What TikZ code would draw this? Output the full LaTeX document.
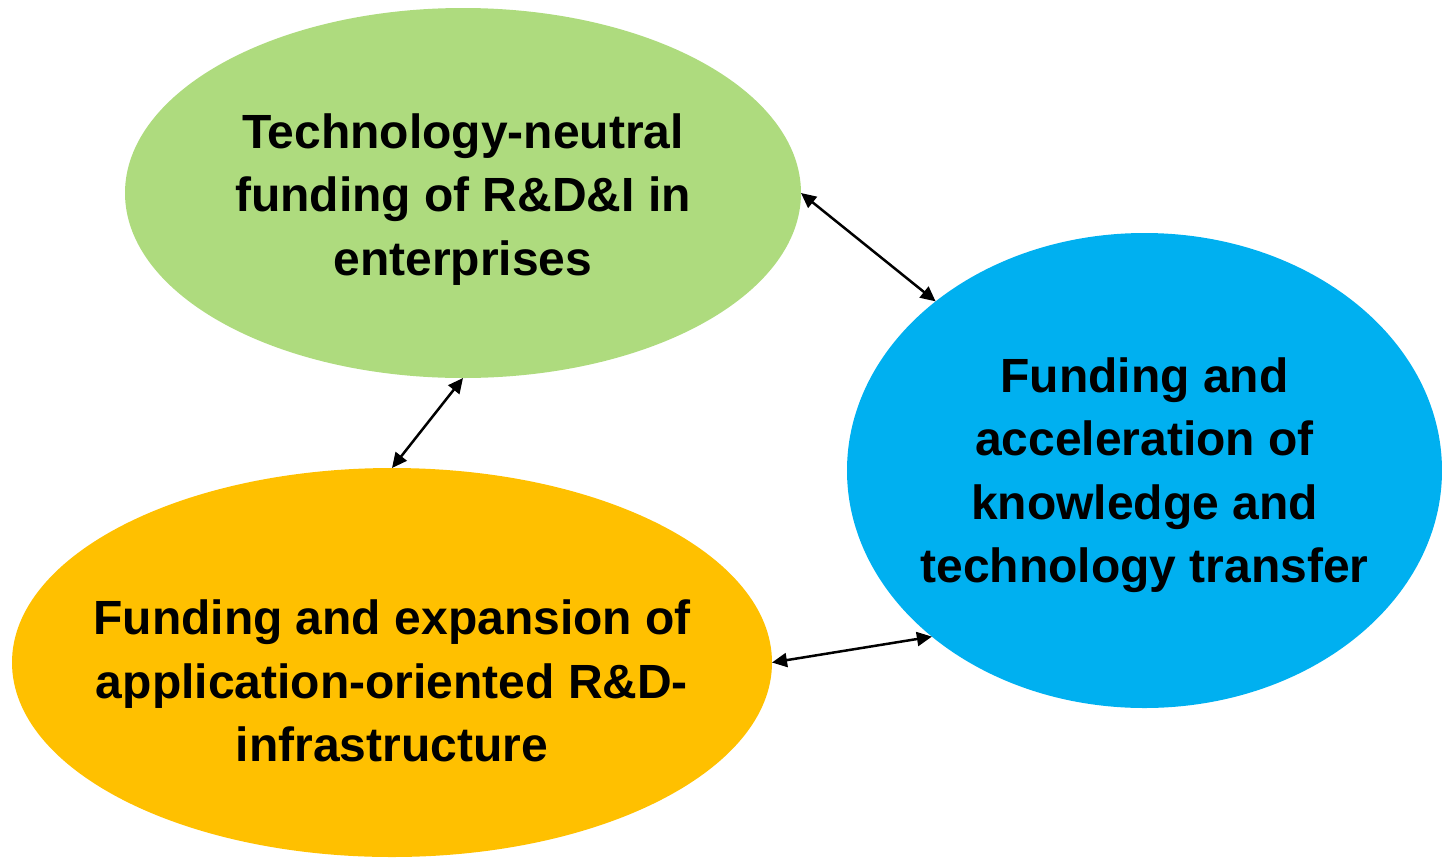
\documentclass[tikz,border=0pt]{standalone}
\usepackage{fontspec}
\setmainfont{Liberation Sans}
\usetikzlibrary{shapes.geometric,arrows.meta}
\definecolor{cgreen}{HTML}{AEDB7E}
\definecolor{cblue}{HTML}{00B0F0}
\definecolor{corange}{HTML}{FFC000}
\tikzset{
  blob/.style={ellipse, inner sep=0pt, outer sep=0pt, draw=none},
  label/.style={align=center, inner sep=0pt, font=\fontsize{24}{31.75}\selectfont\bfseries},
  link/.style={line width=1.25pt, {Triangle[length=7.5pt,width=7pt]}-{Triangle[length=7.5pt,width=7pt]}}
}
\begin{document}
\begin{tikzpicture}[x=0.5pt,y=-0.5pt]
\useasboundingbox (0,0) rectangle (1442,858);
\node[blob, fill=cgreen, minimum width=338pt, minimum height=185pt] (green) at (463,193) {};
\node[blob, fill=cblue, minimum width=297.5pt, minimum height=237.5pt] (blue) at (1144.5,470.5) {};
\node[blob, fill=corange, minimum width=380pt, minimum height=194.5pt] (orange) at (392,662.5) {};
\node[label] (tgreen) at (463,199.5) {Technology-neutral\\funding of R\&D\&I in\\enterprises};
\node[label] (tblue) at (1144.5,475) {Funding and\\acceleration of\\knowledge and\\technology transfer};
\node[label] (torange) at (392,681) {Funding and expansion of\\application-oriented R\&D-\\infrastructure};
\draw[link] (green.0) -- (blue.141.6);
\draw[link] (green.-90) -- (orange.90);
\draw[link] (orange.0) -- (blue.218.5);
\end{tikzpicture}
\end{document}
